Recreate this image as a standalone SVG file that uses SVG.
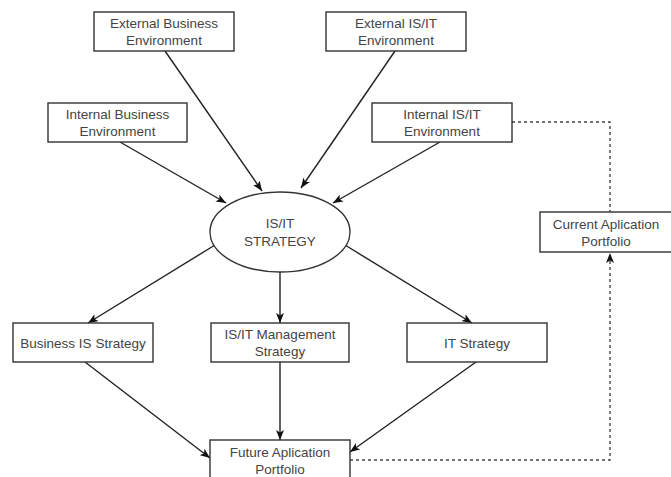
<svg xmlns="http://www.w3.org/2000/svg" width="671" height="477" viewBox="0 0 671 477">
<style>
.box{fill:#fff;stroke:#333;stroke-width:1.4}
.t{font-family:"Liberation Sans",Arial,sans-serif;font-size:13.5px;fill:#444;text-anchor:middle}
.c{fill:none;stroke:#222;stroke-width:1.4}
.d{fill:none;stroke:#444;stroke-width:1.4;stroke-dasharray:3 3}
</style>
<defs>
<marker id="ah" viewBox="0 0 10 8" refX="10" refY="4" markerWidth="10" markerHeight="8" markerUnits="userSpaceOnUse" orient="auto">
<path d="M0,0 L10,4 L0,8 L2.5,4 z" fill="#111"/>
</marker>
</defs>
<rect width="671" height="477" fill="#fff"/>
<g id="connectors">
<line class="c" x1="165" y1="51" x2="262" y2="191" marker-end="url(#ah)"/>
<line class="c" x1="395" y1="51" x2="301" y2="188" marker-end="url(#ah)"/>
<line class="c" x1="120" y1="142" x2="226" y2="203" marker-end="url(#ah)"/>
<line class="c" x1="440" y1="142" x2="333" y2="203" marker-end="url(#ah)"/>
<line class="c" x1="215" y1="245" x2="88" y2="323" marker-end="url(#ah)"/>
<line class="c" x1="280" y1="272" x2="280" y2="323" marker-end="url(#ah)"/>
<line class="c" x1="345" y1="245" x2="472" y2="323" marker-end="url(#ah)"/>
<line class="c" x1="85" y1="362" x2="210" y2="458" marker-end="url(#ah)"/>
<line class="c" x1="280" y1="362" x2="280" y2="440" marker-end="url(#ah)"/>
<line class="c" x1="476" y1="362" x2="350" y2="452" marker-end="url(#ah)"/>
<polyline class="d" points="512,122 610,122 610,212"/>
<polyline class="d" points="350,460 610,460 610,253" marker-end="url(#ah)"/>
</g>
<g id="ext-business">
<rect class="box" x="94" y="12" width="140" height="39"/>
<text class="t" x="164" y="28">External Business</text>
<text class="t" x="164" y="45">Environment</text>
</g>
<g id="ext-isit">
<rect class="box" x="326" y="12" width="140" height="39"/>
<text class="t" x="396" y="28">External IS/IT</text>
<text class="t" x="396" y="45">Environment</text>
</g>
<g id="int-business">
<rect class="box" x="48" y="103" width="139" height="39"/>
<text class="t" x="117.5" y="119">Internal Business</text>
<text class="t" x="117.5" y="136">Environment</text>
</g>
<g id="int-isit">
<rect class="box" x="372" y="103" width="140" height="39"/>
<text class="t" x="442" y="119">Internal IS/IT</text>
<text class="t" x="442" y="136">Environment</text>
</g>
<g id="strategy">
<ellipse class="box" cx="280" cy="232" rx="70" ry="40"/>
<text class="t" x="280" y="228">IS/IT</text>
<text class="t" x="280" y="246">STRATEGY</text>
</g>
<g id="current-portfolio">
<rect class="box" x="540" y="212" width="132" height="40"/>
<text class="t" x="606" y="229">Current Aplication</text>
<text class="t" x="606" y="246">Portfolio</text>
</g>
<g id="business-is">
<rect class="box" x="13" y="323" width="140" height="39"/>
<text class="t" x="83" y="347.5">Business IS Strategy</text>
</g>
<g id="isit-mgmt">
<rect class="box" x="211" y="323" width="138" height="39"/>
<text class="t" x="280" y="339">IS/IT Management</text>
<text class="t" x="280" y="356">Strategy</text>
</g>
<g id="it-strategy">
<rect class="box" x="407" y="323" width="140" height="39"/>
<text class="t" x="477" y="347.5">IT Strategy</text>
</g>
<g id="future-portfolio">
<rect class="box" x="210" y="440" width="140" height="41"/>
<text class="t" x="280" y="456.5">Future Aplication</text>
<text class="t" x="280" y="473.5">Portfolio</text>
</g>
</svg>
